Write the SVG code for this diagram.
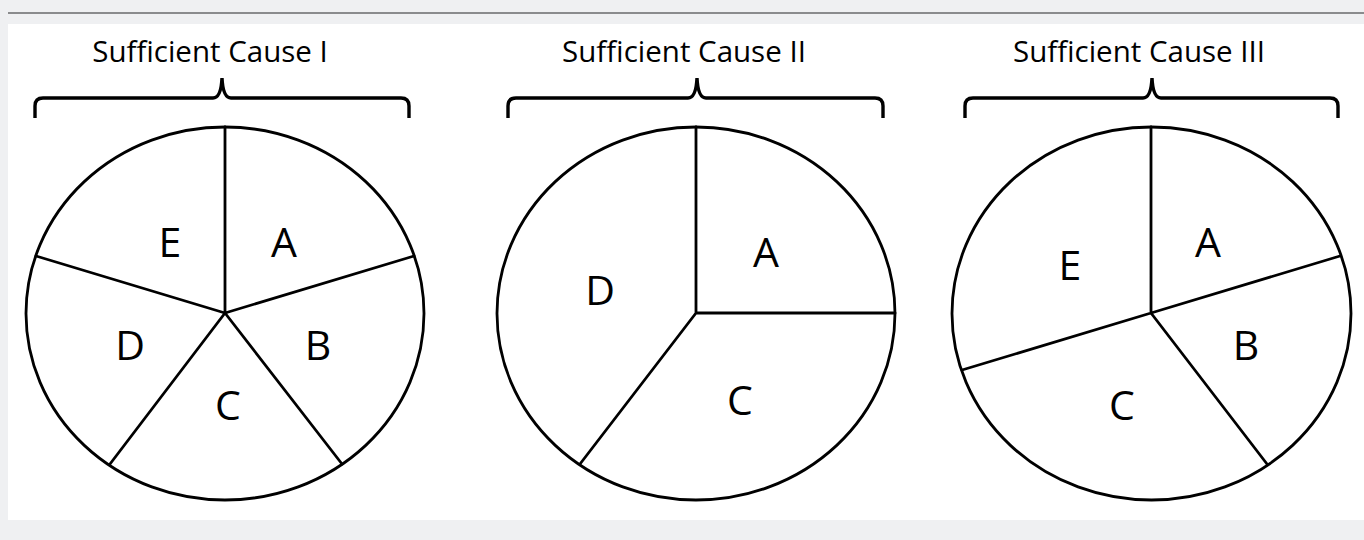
<svg xmlns="http://www.w3.org/2000/svg" width="1364" height="540" viewBox="0 0 1364 540">
<style>
.pie{fill:#fff;stroke:#000;stroke-width:2.8}
.seg{stroke:#000;stroke-width:2.8;fill:none;stroke-linecap:round}
.brace{stroke:#000;stroke-width:3.4;fill:none}
.title{font-family:"Open Sans",sans-serif;font-size:29.5px;fill:#000;text-anchor:middle}
.lbl{font-family:"Open Sans",sans-serif;font-size:41px;fill:#000;text-anchor:middle}
</style>
<rect x="0" y="0" width="1364" height="540" fill="#eff0f2"/>
<rect x="8" y="12" width="1356" height="2" fill="#8a8b8d"/>
<rect x="8" y="24" width="1356" height="496" fill="#fff"/>
<g id="cause1">
<text class="title" x="210" y="62">Sufficient Cause I</text>
<path class="brace" d="M35,118 V106 Q35,98 43,98 H213 Q221,98 222,78 Q223,98 231,98 H401 Q409,98 409,106 V118"/>
<ellipse class="pie" cx="225" cy="313.5" rx="199" ry="186.5"/>
<path class="seg" d="M225,127 V313 M225,313 L414,256 M225,313 L36,256 M225,313 L110,464 M225,313 L342,464"/>
<text class="lbl" x="170" y="257">E</text>
<text class="lbl" x="284" y="257">A</text>
<text class="lbl" x="130" y="360">D</text>
<text class="lbl" x="318" y="360">B</text>
<text class="lbl" x="228" y="420">C</text>
</g>
<g id="cause2">
<text class="title" x="684" y="62">Sufficient Cause II</text>
<path class="brace" d="M508,118 V106 Q508,98 516,98 H688 Q696,98 697,78 Q698,98 706,98 H875 Q883,98 883,106 V118"/>
<ellipse class="pie" cx="696" cy="313.5" rx="199" ry="186.5"/>
<path class="seg" d="M696,127 V313 H895 M696,313 L580,464"/>
<text class="lbl" x="766" y="267">A</text>
<text class="lbl" x="600" y="305">D</text>
<text class="lbl" x="740" y="415">C</text>
</g>
<g id="cause3">
<text class="title" x="1139" y="62">Sufficient Cause III</text>
<path class="brace" d="M965,118 V106 Q965,98 973,98 H1143 Q1151,98 1152,78 Q1153,98 1161,98 H1330 Q1338,98 1338,106 V118"/>
<ellipse class="pie" cx="1151.5" cy="313.5" rx="199.5" ry="186.5"/>
<path class="seg" d="M1151,127 V313 M1151,313 L1340,256 M1151,313 L962,370 M1151,313 L1267,464"/>
<text class="lbl" x="1208" y="257">A</text>
<text class="lbl" x="1070" y="280">E</text>
<text class="lbl" x="1246" y="360">B</text>
<text class="lbl" x="1122" y="420">C</text>
</g>
</svg>
